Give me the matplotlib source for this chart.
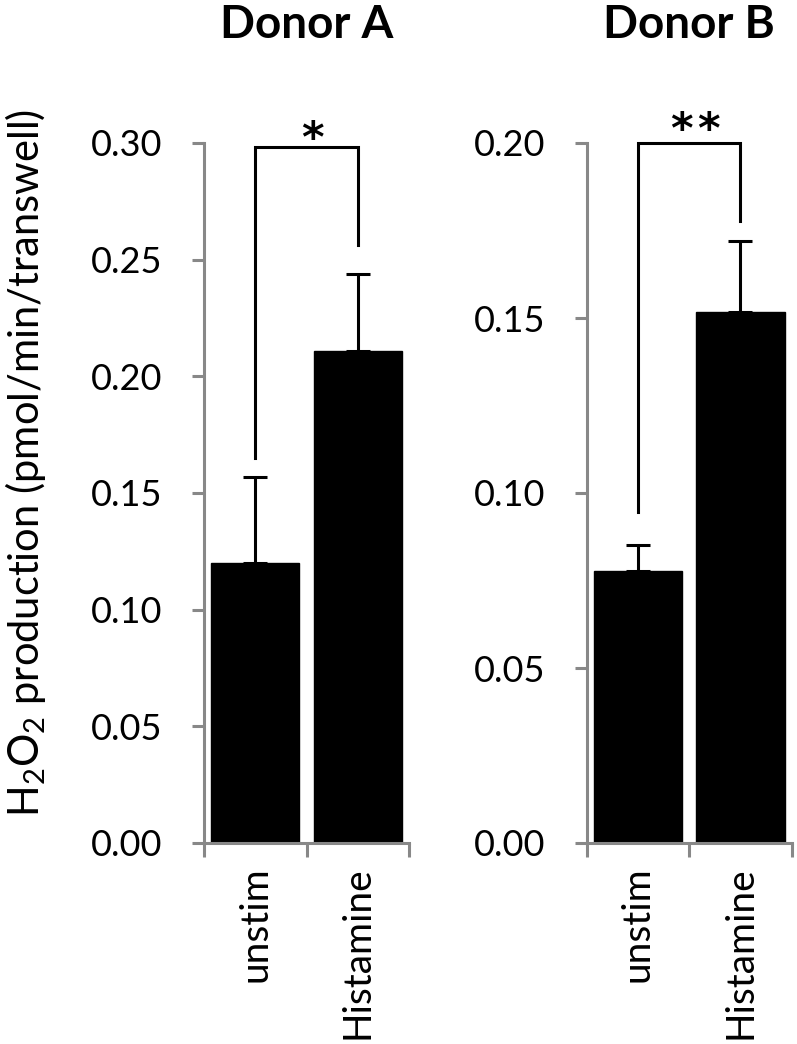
import matplotlib
matplotlib.use("Agg")
import matplotlib.pyplot as plt
import numpy as np

plt.rcParams['font.family'] = ['Lato', 'DejaVu Sans']
plt.rcParams['mathtext.fontset'] = 'custom'
plt.rcParams['mathtext.rm'] = 'Lato'
plt.rcParams['mathtext.it'] = 'Lato:italic'

categories = ["unstim", "Histamine"]
titles = ["Donor A", "Donor B"]
donor_a_values = [0.120, 0.211]
donor_a_errors = [0.037, 0.033]
donor_b_values = [0.0777, 0.1517]
donor_b_errors = [0.0074, 0.0203]
y_max = [0.30, 0.20]
y_ticks_a = [0.00, 0.05, 0.10, 0.15, 0.20, 0.25, 0.30]
y_ticks_b = [0.00, 0.05, 0.10, 0.15, 0.20]
sig_counts = [1, 2]
# bracket: (left leg bottom, top, right leg bottom)
brackets = [(0.165, 0.2984, 0.2565), (0.0945, 0.200, 0.1777)]

W, H = 797, 1044
fig = plt.figure(figsize=(W / 100, H / 100), dpi=100)

axis_color = '#888888'
panels = [
    (204, donor_a_values, donor_a_errors, y_ticks_a),
    (586.7, donor_b_values, donor_b_errors, y_ticks_b),
]
star_dy = [-3.5, 0.0]

for i, (left_px, vals, errs, yt) in enumerate(panels):
    ax = fig.add_axes([left_px / W, 1 - 843 / H, 205 / W, 700 / H])
    x = np.arange(len(categories))
    ax.bar(x, vals, width=0.86, color='black', edgecolor='black', zorder=2)
    ax.errorbar(x, vals, yerr=[np.zeros(len(errs)), errs], fmt='none',
                ecolor='black', elinewidth=2.2, capsize=8.5, capthick=2.2, zorder=3)
    ax.set_xlim(-0.5, 1.5)
    ax.set_ylim(0, y_max[i])
    ax.set_yticks(yt)
    ax.set_yticklabels([f"{v:.2f}" for v in yt])
    for s in ['top', 'right']:
        ax.spines[s].set_visible(False)
    for s in ['left', 'bottom']:
        ax.spines[s].set_color(axis_color)
        ax.spines[s].set_linewidth(2.2)
    ax.tick_params(axis='y', direction='out', length=9, width=2.2, color=axis_color,
                   labelsize=26, pad=21)
    # category boundary ticks (major), labels on minor ticks
    ax.set_xticks([-0.5, 0.5, 1.5])
    ax.set_xticklabels([])
    ax.set_xticks(x, minor=True)
    ax.set_xticklabels(categories, minor=True, rotation=90, fontsize=28, va='top')
    ax.tick_params(axis='x', which='major', direction='out', length=10, width=2.2,
                   color=axis_color)
    ax.tick_params(axis='x', which='minor', length=0, pad=17)
    ax.set_title(titles[i], fontsize=33, fontweight='bold', pad=0, y=1.0)
    ax.title.set_position((0.5, (843 - 38) / 700))
    ax.title.set_va('baseline')
    # significance bracket
    lb, top, rb = brackets[i]
    ax.plot([0, 0, 1, 1], [lb, top, top, rb], color='black', lw=2.2,
            clip_on=False, solid_joinstyle='miter', zorder=4)
    n = sig_counts[i]
    for k in range(n):
        dx = 4.0 + (k - (n - 1) / 2) * 19.0
        ax.annotate("*", xy=(0.5, top), xytext=(dx, star_dy[i]),
                    textcoords='offset points', ha='center', va='baseline',
                    fontsize=31, family='DejaVu Sans', fontweight='bold',
                    annotation_clip=False)

fig.text(26 / W, 1 - 463 / H,
         r'H$_\mathregular{2}$O$_\mathregular{2}$ production (pmol/min/transwell)',
         rotation=90, ha='center', va='center', fontsize=30)

fig.savefig("out.png", dpi=100)
